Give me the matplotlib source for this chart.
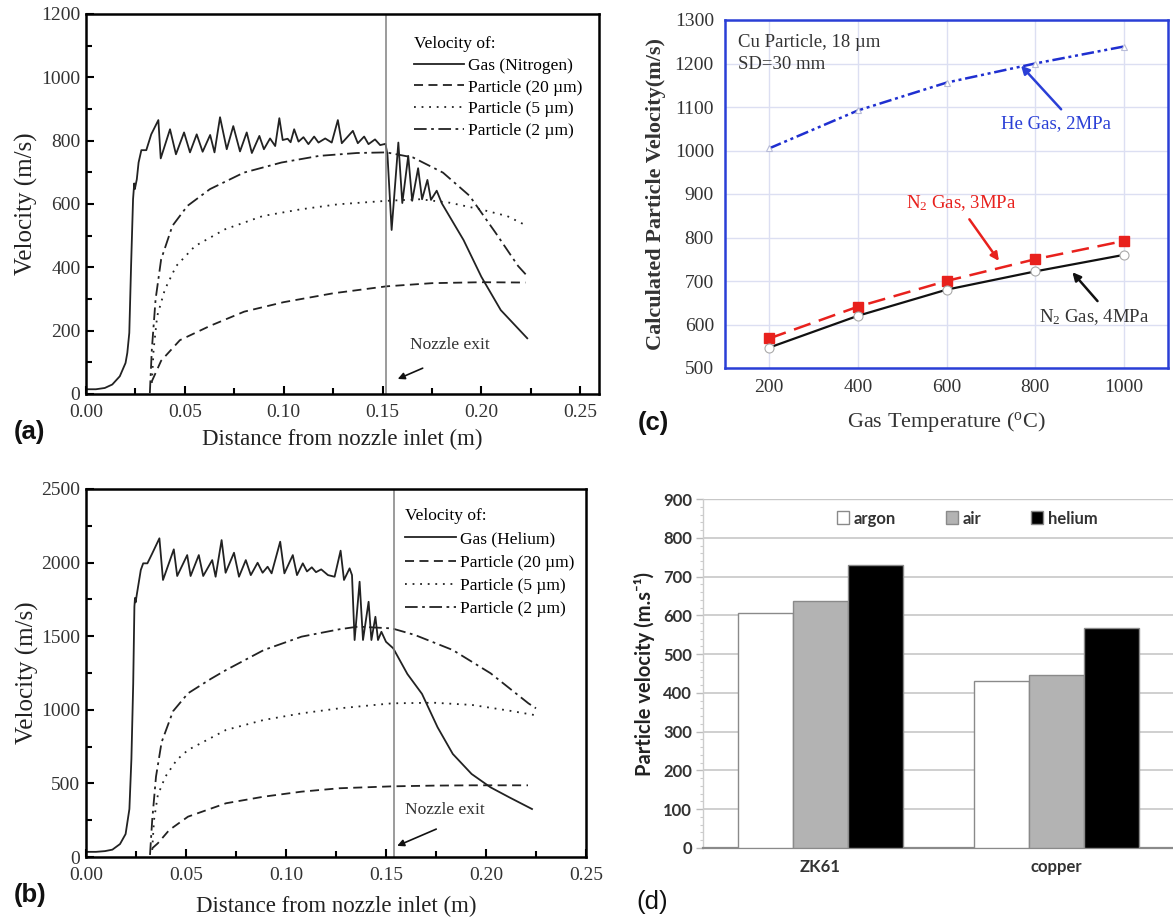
import numpy as np
import matplotlib
matplotlib.use("Agg")
import matplotlib.pyplot as plt
from matplotlib.ticker import MultipleLocator

plt.rcParams['font.family'] = ['Liberation Serif', 'DejaVu Serif']
plt.rcParams['mathtext.fontset'] = 'custom'
plt.rcParams['mathtext.rm'] = 'Liberation Serif'
plt.rcParams['mathtext.it'] = 'Liberation Serif:italic'

# ---- panel (a): nitrogen, velocity vs distance from inlet ----
gas_n2 = [(0, 15), (0.005, 15), (0.0095, 19), (0.0133, 30), (0.0171, 56), (0.0200, 98),
          (0.0209, 130), (0.0219, 193), (0.0228, 404), (0.0238, 615), (0.0244, 665),
          (0.0247, 647), (0.0257, 678), (0.0266, 731), (0.0280, 770), (0.0305, 770),
          (0.0330, 820), (0.0366, 865), (0.0378, 744), (0.0425, 836), (0.0455, 757),
          (0.0496, 826), (0.0526, 763), (0.0560, 820), (0.0590, 765), (0.0628, 818),
          (0.0650, 763), (0.0678, 874), (0.0712, 773), (0.0745, 846), (0.0779, 766),
          (0.0813, 826), (0.0839, 761), (0.0877, 815), (0.0900, 773), (0.0931, 807),
          (0.0957, 783), (0.0978, 871), (0.0995, 802), (0.1020, 806), (0.1035, 795),
          (0.1053, 836), (0.1075, 797), (0.1100, 811), (0.1125, 789), (0.1154, 813),
          (0.1176, 794), (0.1210, 807), (0.1243, 794), (0.1274, 865), (0.1294, 792),
          (0.1350, 831), (0.1375, 792), (0.1407, 813), (0.1429, 789), (0.1462, 804),
          (0.1488, 786), (0.1515, 790), (0.1525, 755), (0.1546, 518), (0.1580, 794),
          (0.1600, 603), (0.1630, 752), (0.1650, 610), (0.1680, 713), (0.1700, 615),
          (0.1727, 676), (0.1745, 613), (0.1774, 642), (0.1800, 602), (0.1910, 486),
          (0.2000, 370), (0.2098, 265), (0.2232, 176)]
p20_n2 = [(0.0333, 40), (0.038, 105), (0.0475, 170), (0.0627, 215), (0.080, 260),
          (0.100, 290), (0.125, 318), (0.152, 340), (0.175, 350), (0.200, 353), (0.2224, 352)]
p5_n2 = [(0.0333, 35), (0.0342, 140), (0.036, 246), (0.0399, 330), (0.0456, 404),
         (0.0551, 467), (0.0703, 520), (0.0894, 562), (0.1084, 583), (0.1274, 599),
         (0.152, 610), (0.169, 615), (0.184, 604), (0.1996, 583), (0.213, 562), (0.2224, 533)]
p2_n2 = [(0.0323, 3), (0.0333, 140), (0.0352, 299), (0.038, 425), (0.0437, 531),
         (0.0513, 594), (0.0627, 647), (0.0798, 699), (0.0989, 731), (0.118, 752),
         (0.137, 761), (0.152, 763), (0.1654, 747), (0.1806, 699), (0.194, 626),
         (0.2072, 509), (0.2186, 404), (0.2224, 378)]

# ---- panel (b): helium ----
gas_he = [(0, 35), (0.005, 35), (0.0095, 40), (0.0132, 50), (0.017, 88), (0.0198, 156),
          (0.0217, 326), (0.0227, 665), (0.0236, 1175), (0.0242, 1700), (0.0245, 1760),
          (0.0248, 1730), (0.0255, 1791), (0.0274, 1950), (0.0286, 1995), (0.0307, 1995),
          (0.033, 2059), (0.0367, 2165), (0.0385, 1882), (0.0439, 2090), (0.0456, 1909),
          (0.0506, 2051), (0.0523, 1909), (0.0564, 2051), (0.0586, 1909), (0.0631, 2017),
          (0.0648, 1904), (0.0678, 2153), (0.0698, 1931), (0.0740, 2067), (0.0765, 1904),
          (0.0799, 2017), (0.0824, 1915), (0.0858, 1999), (0.0883, 1931), (0.0908, 1972),
          (0.0928, 1927), (0.0971, 2142), (0.0992, 1927), (0.1034, 2051), (0.1055, 1915),
          (0.1084, 1995), (0.1105, 1940), (0.1129, 1968), (0.1150, 1935), (0.1176, 1954),
          (0.1210, 1915), (0.1243, 1904), (0.1273, 2081), (0.1290, 1882), (0.1318, 1961),
          (0.1330, 1915), (0.1343, 1474), (0.1368, 1870), (0.1385, 1474), (0.1413, 1734),
          (0.1427, 1474), (0.1447, 1632), (0.1460, 1474), (0.1477, 1530), (0.1500, 1462),
          (0.1536, 1418), (0.1607, 1243), (0.1680, 1108), (0.1758, 881), (0.1834, 700),
          (0.1928, 564), (0.2023, 473), (0.2117, 405), (0.2230, 326)]
p20_he = [(0.0331, 59), (0.0359, 93), (0.0416, 183), (0.051, 274), (0.070, 365),
          (0.0889, 410), (0.1078, 444), (0.1267, 467), (0.153, 480), (0.174, 485),
          (0.193, 487), (0.221, 487)]
p5_he = [(0.0331, 48), (0.034, 251), (0.0359, 420), (0.0397, 546), (0.0454, 660),
         (0.051, 727), (0.070, 863), (0.0889, 931), (0.1078, 976), (0.1267, 1010),
         (0.153, 1044), (0.174, 1048), (0.193, 1033), (0.2117, 994), (0.224, 965)]
p2_he = [(0.032, 14), (0.0331, 251), (0.035, 546), (0.0378, 780), (0.0435, 990),
         (0.051, 1112), (0.0624, 1210), (0.070, 1270), (0.0889, 1406), (0.1078, 1497),
         (0.1267, 1547), (0.136, 1565), (0.153, 1553), (0.1645, 1508), (0.1834, 1406),
         (0.2023, 1248), (0.2212, 1044), (0.225, 1010)]

# ---- panel (c): particle velocity vs gas temperature ----
temps = [200, 400, 600, 800, 1000]
he_2mpa = [1005, 1092, 1156, 1200, 1239]
n2_3mpa = [568, 641, 700, 750, 792]
n2_4mpa = [547, 620, 680, 722, 760]

# ---- panel (d): bars ----
materials = ["ZK61", "copper"]
gases = ["argon", "air", "helium"]
bar_vals = {"argon": [605, 431], "air": [638, 446], "helium": [730, 567]}

W, H = 1173, 917
fig = plt.figure(figsize=(W / 100, H / 100), dpi=100)


def px_axes(l, t, r, b):
    return fig.add_axes([l / W, 1 - b / H, (r - l) / W, (b - t) / H])


def nozzle_panel(ax, gas, p20, p5, p2, gas_name, ymax, ymaj, xmax, xnoz, arrow, txt, xlpad):
    c = '#222222'
    g = np.array(gas).T
    ax.plot(g[0], g[1], color=c, lw=1.3, label=f"Gas ({gas_name})")
    for data, ls, lab in [(p20, (0, (5, 3)), "Particle (20 \u00b5m)"),
                          (p5, (0, (1, 3.2)), "Particle (5 \u00b5m)"),
                          (p2, (0, (7, 2.5, 1.5, 2.5)), "Particle (2 \u00b5m)")]:
        d = np.array(data).T
        ax.plot(d[0], d[1], color=c, lw=1.3, ls=ls, label=lab)
    ax.axvline(xnoz, color='#808080', lw=1.1)
    ax.set_xlim(0, xmax)
    ax.set_ylim(0, ymax)
    ax.set_xticks([0, 0.05, 0.10, 0.15, 0.20, 0.25])
    ax.set_xticklabels(["0.00", "0.05", "0.10", "0.15", "0.20", "0.25"])
    ax.xaxis.set_minor_locator(MultipleLocator(0.025))
    ax.yaxis.set_major_locator(MultipleLocator(ymaj))
    ax.yaxis.set_minor_locator(MultipleLocator(ymaj / 2))
    ax.tick_params(which='both', direction='in', top=False, right=False, width=1.5,
                   labelsize=14, labelcolor='#333333')
    ax.tick_params(axis='x', pad=7)
    ax.tick_params(axis='y', pad=4)
    ax.tick_params(which='major', length=6)
    ax.tick_params(which='minor', length=4)
    for s in ax.spines.values():
        s.set_linewidth(1.8)
    ax.set_xlabel("Distance from nozzle inlet (m)", fontsize=16.5, color='#222', labelpad=xlpad)
    ax.set_ylabel("Velocity (m/s)", fontsize=18, color='#222', labelpad=2)
    ax.annotate("", xy=arrow[1], xytext=arrow[0],
                arrowprops=dict(arrowstyle='-|>', color='#111', lw=1.2, mutation_scale=10))
    ax.text(txt[0], txt[1], "Nozzle exit", fontsize=12.5, color='#333', va='center')
    return ax


ax_a = px_axes(86, 14, 599, 394)
nozzle_panel(ax_a, gas_n2, p20_n2, p5_n2, p2_n2, "Nitrogen", 1200, 200, 0.2595, 0.152,
             [(0.1716, 85), (0.1564, 44)], (0.1640, 155), 6)
leg = ax_a.legend(loc='upper left', bbox_to_anchor=(0.625, 0.96), frameon=False,
                  fontsize=12.5, title="Velocity of:", title_fontsize=12.5, alignment='left',
                  handlelength=2.9, handletextpad=0.25, labelspacing=0.32, borderaxespad=0)

ax_b = px_axes(86, 489, 586, 857)
nozzle_panel(ax_b, gas_he, p20_he, p5_he, p2_he, "Helium", 2500, 500, 0.25, 0.154,
             [(0.1764, 197), (0.1543, 68)], (0.1595, 320), 9)
leg = ax_b.legend(loc='upper left', bbox_to_anchor=(0.625, 0.966), frameon=False,
                  fontsize=12.5, title="Velocity of:", title_fontsize=12.5, alignment='left',
                  handlelength=2.9, handletextpad=0.25, labelspacing=0.4, borderaxespad=0)

# ---- panel (c) ----
ax_c = px_axes(725, 20, 1168, 368)
blue = '#2a3fd6'
ax_c.plot(temps, he_2mpa, color='#1f2fd0', lw=1.8, ls=(0, (5, 1.5, 1.2, 1.5, 1.2, 1.5)),
          marker='^', ms=5, mfc='white', mec='#b8bcd8', mew=0.8)
ax_c.plot(temps, n2_3mpa, color='#e8211d', lw=1.8, ls=(0, (7, 3.5)),
          marker='s', ms=6.5, mfc='#e8211d', mec='#e8211d')
ax_c.plot(temps, n2_4mpa, color='#111111', lw=1.6,
          marker='o', ms=6.5, mfc='white', mec='#aaaaaa', mew=0.8)
ax_c.set_xlim(100, 1100)
ax_c.set_ylim(500, 1300)
ax_c.set_xticks(temps)
ax_c.set_yticks(range(500, 1301, 100))
ax_c.grid(True, color='#dcdff2', lw=1)
ax_c.set_axisbelow(True)
ax_c.tick_params(length=0, labelsize=14, labelcolor='#333', pad=8)
for s in ax_c.spines.values():
    s.set_color(blue)
    s.set_linewidth(1.8)
ax_c.set_xlabel("Gas Temperature ($^{\\mathrm{o}}$C)", fontsize=16, color='#333', labelpad=10)
ax_c.set_ylabel("Calculated Particle Velocity(m/s)", fontsize=16, color='#333',
                fontweight='bold', labelpad=6)
ax_c.text(130, 1249, "Cu Particle, 18 \u00b5m", fontsize=13.5, color='#333', va='center')
ax_c.text(130, 1197, "SD=30 mm", fontsize=13.5, color='#333', va='center')
ax_c.text(722, 1063, "He Gas, 2MPa", fontsize=13.5, color=blue, va='center')
ax_c.text(634, 879, "N$_{2}$ Gas, 3MPa", fontsize=13.5, color='#e8211d', va='center', ha='center')
ax_c.text(934, 617, "N$_{2}$ Gas, 4MPa", fontsize=13.5, color='#333', va='center', ha='center')
ax_c.annotate("", xy=(764, 1200), xytext=(863, 1090),
              arrowprops=dict(arrowstyle='-|>', color=blue, lw=1.8, mutation_scale=12))
ax_c.annotate("", xy=(722, 741), xytext=(648, 847),
              arrowprops=dict(arrowstyle='-|>', color='#e8211d', lw=1.8, mutation_scale=12))
ax_c.annotate("", xy=(880, 725), xytext=(945, 649),
              arrowprops=dict(arrowstyle='-|>', color='#111', lw=1.8, mutation_scale=12))

# ---- panel (d) ----
ax_d = px_axes(703, 499, 1175, 848)
sans = ['Lato', 'DejaVu Sans']
w = 0.232
xs = np.arange(len(materials))
fills = {"argon": 'white', "air": '#b3b3b3', "helium": 'black'}
for i, gname in enumerate(gases):
    ax_d.bar(xs + (i - 1) * w, bar_vals[gname], width=w, color=fills[gname],
             edgecolor='#8a8a8a', lw=1.0, label=gname, zorder=3)
ax_d.set_xlim(-0.496, 1.5)
ax_d.set_ylim(0, 900)
ax_d.set_yticks(range(0, 901, 100))
ax_d.yaxis.set_minor_locator(MultipleLocator(20))
ax_d.grid(True, axis='y', color='#cccccc', lw=1.3, zorder=0)
ax_d.set_xticks(xs)
ax_d.set_xticklabels(materials)
ax_d.tick_params(axis='x', length=0, pad=8)
ax_d.tick_params(axis='y', which='major', length=5, color='#bbbbbb', width=1, pad=3)
ax_d.tick_params(axis='y', which='minor', length=2.5, color='#cccccc', width=0.8)
for lab in ax_d.get_xticklabels() + ax_d.get_yticklabels():
    lab.set_family(sans)
    lab.set_fontweight('bold')
    lab.set_fontsize(12)
    lab.set_color('#333')
for k in ['top', 'right']:
    ax_d.spines[k].set_visible(False)
ax_d.spines['left'].set_color('#cccccc')
ax_d.spines['left'].set_linewidth(1.0)
ax_d.spines['bottom'].set_color('#8a8a8a')
ax_d.spines['bottom'].set_linewidth(1.6)
ax_d.axhline(900, color='#a0a0a0', lw=1.6, zorder=1)
ax_d.set_ylabel("Particle velocity (m.s\u207b\u00b9)", family=sans, fontweight='bold',
                fontsize=14.5, color='#222', labelpad=6)
leg = ax_d.legend(loc='center', bbox_to_anchor=(0.56, 0.944), ncol=3, frameon=False,
                  prop={'family': sans, 'weight': 'bold', 'size': 12},
                  handlelength=0.7, handleheight=0.8, handletextpad=0.3, columnspacing=3.0)
for t in leg.get_texts():
    t.set_color('#333')

# panel letters
for x, y, s, wt in [(14, 432, "(a)", 'bold'), (14, 895, "(b)", 'bold'),
                    (638, 423, "(c)", 'bold'), (636, 902, "(d)", 'medium')]:
    fig.text(x / W, 1 - y / H, s, fontsize=18.5, fontweight=wt, family='Liberation Sans',
             va='center', ha='left', color='#111')

fig.savefig("out.png", dpi=100)
